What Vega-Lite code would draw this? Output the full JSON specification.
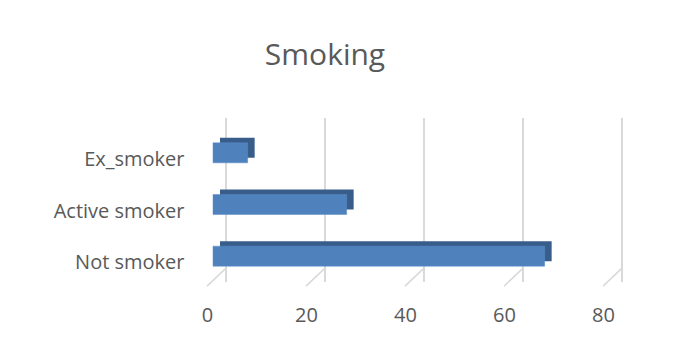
{
  "$schema": "https://vega.github.io/schema/vega-lite/v6.json",
  "width": 396,
  "height": 155,
  "autosize": {"type": "none"},
  "padding": {"left": 226, "top": 127, "right": 58, "bottom": 60},
  "background": "#ffffff",
  "title": {
    "text": "Smoking",
    "font": "Open Sans",
    "fontSize": 30,
    "fontWeight": "normal",
    "color": "#595959",
    "anchor": "middle",
    "dx": -99,
    "baseline": "alphabetic",
    "offset": 22
  },
  "data": {
    "values": [
      {"category": "Ex_smoker", "value": 7},
      {"category": "Active smoker", "value": 27},
      {"category": "Not smoker", "value": 67}
    ]
  },
  "layer": [
    {
      "data": {"values": [{"tick": 0}, {"tick": 20}, {"tick": 40}, {"tick": 60}, {"tick": 80}]},
      "mark": {"type": "rule", "color": "#d9d9d9", "strokeWidth": 2, "yOffset": -9, "y2Offset": -14},
      "encoding": {
        "x": {"field": "tick", "type": "quantitative", "scale": {"domain": [0, 80], "nice": false}}
      }
    },
    {
      "data": {"values": [{"tick": 0}, {"tick": 20}, {"tick": 40}, {"tick": 60}, {"tick": 80}]},
      "mark": {"type": "rule", "color": "#d9d9d9", "strokeWidth": 1.5, "yOffset": 12, "y2Offset": 30, "x2Offset": -19},
      "encoding": {
        "x": {"field": "tick", "type": "quantitative"},
        "x2": {"field": "tick"},
        "y": {"datum": "Not smoker", "type": "nominal"},
        "y2": {"datum": "Not smoker"}
      }
    },
    {
      "mark": {"type": "bar", "size": 20, "color": "#385D8A", "xOffset": -6, "x2Offset": -6, "yOffset": -5},
      "encoding": {
        "y": {
          "field": "category",
          "type": "nominal",
          "sort": ["Ex_smoker", "Active smoker", "Not smoker"],
          "scale": {"domain": ["Ex_smoker", "Active smoker", "Not smoker"], "paddingInner": 0, "paddingOuter": 0},
          "axis": {
            "title": null,
            "domain": false,
            "ticks": false,
            "grid": false,
            "labelFont": "Open Sans",
            "labelFontSize": 20,
            "labelColor": "#595959",
            "labelPadding": 42,
            "labelOffset": 7
          }
        },
        "x": {
          "field": "value",
          "type": "quantitative",
          "axis": {
            "title": null,
            "values": [0, 20, 40, 60, 80],
            "domain": false,
            "ticks": false,
            "grid": false,
            "labelFont": "Open Sans",
            "labelFontSize": 20,
            "labelColor": "#595959",
            "labelBaseline": "alphabetic",
            "labelPadding": 39,
            "labelOffset": -19,
            "labelFlush": false,
            "labelBound": false
          }
        }
      }
    },
    {
      "mark": {"type": "bar", "size": 20, "color": "#4F81BD", "xOffset": -13, "x2Offset": -13, "stroke": "#5B8CC8", "strokeWidth": 0.5},
      "encoding": {
        "y": {"field": "category", "type": "nominal"},
        "x": {"field": "value", "type": "quantitative"}
      }
    }
  ],
  "resolve": {"scale": {"x": "shared", "y": "shared"}},
  "config": {
    "view": {"stroke": null}
  }
}
